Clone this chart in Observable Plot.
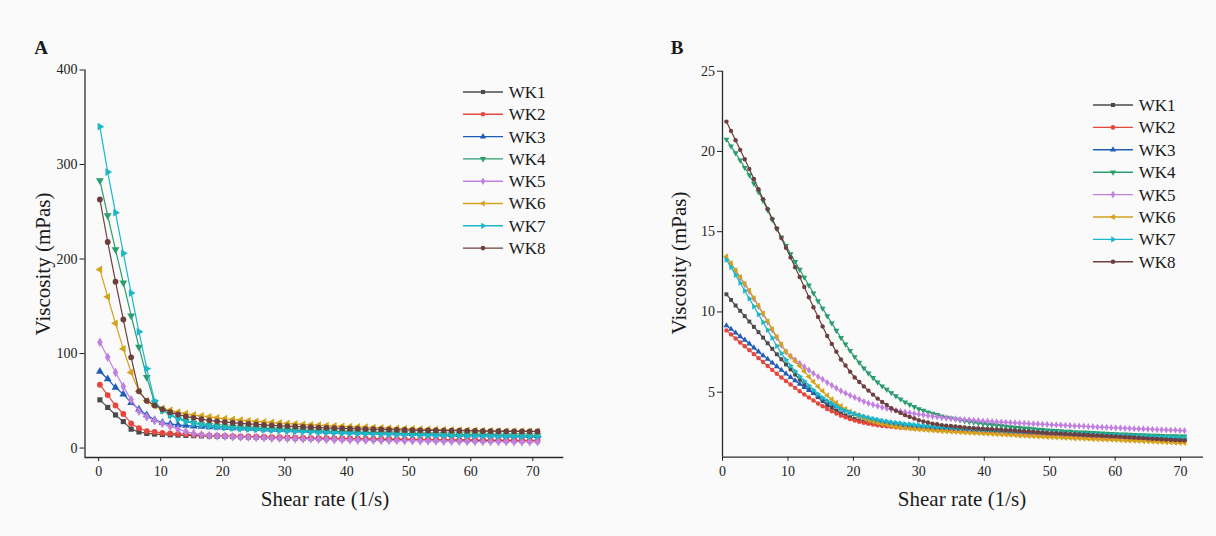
<!DOCTYPE html>
<html>
<head>
<meta charset="utf-8">
<script src="https://cdn.jsdelivr.net/npm/d3@7"></script>
<script src="https://cdn.jsdelivr.net/npm/@observablehq/plot@0.6"></script>
<style>
  html, body { margin: 0; padding: 0; background: #fafafa; }
  #wrap { position: relative; width: 1216px; height: 536px; background: #fafafa; overflow: hidden;
          font-family: "Liberation Serif", "Times New Roman", serif; color: #1a1a1a; }
  #wrap svg, #wrap svg text { font-family: "Liberation Serif", "Times New Roman", serif !important; }
  .lbl { position: absolute; font-size: 21px; white-space: nowrap; transform: translate(-50%, -50%); line-height: 1; }
  .ylbl { transform: translate(-50%, -50%) rotate(-90deg); }
  .letter { position: absolute; font-size: 19px; font-weight: bold; transform: translate(-50%, -50%); line-height: 1; }
</style>
</head>
<body>
<div id="wrap">
  <div class="letter" style="left:41px;top:47px">A</div>
  <div class="letter" style="left:677px;top:47px">B</div>
  <div class="lbl ylbl" style="left:43px;top:264px">Viscosity (mPas)</div>
  <div class="lbl" style="left:325px;top:499px">Shear rate (1/s)</div>
  <div class="lbl ylbl" style="left:679px;top:263px">Viscosity (mPas)</div>
  <div class="lbl" style="left:962px;top:499px">Shear rate (1/s)</div>
</div>
<script>
// ---------- series names / colours ----------
const names = ["WK1", "WK2", "WK3", "WK4", "WK5", "WK6", "WK7", "WK8"];
const colors = ["#4a4a4a", "#e8453c", "#1f5db8", "#2a9d6e", "#c17fe0", "#d4a21c", "#1cb8c8", "#6e3f3f"];

// ---------- tick labels ----------
const xTicks = [0, 10, 20, 30, 40, 50, 60, 70];
const yTicksA = [0, 100, 200, 300, 400];
const yTicksB = [5, 10, 15, 20, 25];

// ---------- Panel A: shear rate (1/s) ----------
const xA = [0.2,1.46,2.72,3.98,5.24,6.5,7.76,9.02,10.28,11.54,12.8,14.06,15.32,16.58,17.84,19.1,20.36,21.62,22.88,24.14,25.4,26.66,27.92,29.18,30.44,31.7,32.96,34.22,35.48,36.74,38,39.26,40.52,41.78,43.04,44.3,45.56,46.82,48.08,49.34,50.6,51.86,53.12,54.38,55.64,56.9,58.16,59.42,60.68,61.94,63.2,64.46,65.72,66.98,68.24,69.5,70.76];
// Panel A viscosity (mPas)
const wk1A = [51,43,35,28,20,17,15.5,14.8,14.3,14,13.7,13.4,13.1,12.9,12.7,12.5,12.3,12.1,11.9,11.7,11.5,11.3,11.1,10.9,10.7,10.5,10.3,10.2,10.1,10,9.9,9.8,9.7,9.6,9.5,9.4,9.3,9.2,9.1,9,8.9,8.8,8.7,8.6,8.5,8.4,8.3,8.3,8.2,8.1,8.0,8.0,7.9,7.9,7.8,7.8,7.7];
const wk2A = [67,56,45,36,26,21,18,17,16,15.5,15,14.6,14.2,13.8,13.5,13.2,12.9,12.6,12.4,12.2,12,11.8,11.6,11.4,11.2,11,10.8,10.6,10.5,10.4,10.3,10.2,10.1,10,9.9,9.8,9.7,9.6,9.5,9.4,9.3,9.2,9.1,9.0,8.9,8.8,8.7,8.7,8.6,8.5,8.4,8.4,8.3,8.3,8.2,8.2,8.1];
const wk3A = [81,73,64,57,48,41,35,30,27,25.5,24.5,23.8,23.2,22.7,22.3,21.9,21.5,21.2,20.9,20.6,20.3,20,19.7,19.4,19.1,18.8,18.5,18.2,17.9,17.6,17.3,17,16.8,16.6,16.4,16.2,16,15.8,15.6,15.4,15.2,15,14.8,14.6,14.4,14.2,14,13.9,13.8,13.7,13.6,13.5,13.4,13.3,13.2,13.1,13];
const wk4A = [283,246,210,175,140,107,75,48,40,35,31,28.5,26.5,25,24,23.3,22.7,22.2,21.8,21.4,21,20.6,20.2,19.8,19.4,19,18.6,18.3,18,17.7,17.4,17.1,16.8,16.5,16.3,16.1,15.9,15.7,15.5,15.3,15.1,14.9,14.7,14.6,14.5,14.4,14.3,14.2,14.1,14,13.9,13.8,13.7,13.6,13.5,13.4,13.3];
const wk5A = [112,96,80,65,51,39,33,29,26,23,20,17.5,15.5,14,13.3,12.8,12.4,12,11.7,11.4,11.1,10.8,10.5,10.3,10.1,9.9,9.7,9.5,9.3,9.1,8.9,8.7,8.5,8.4,8.3,8.2,8.1,8,7.9,7.8,7.7,7.6,7.5,7.4,7.3,7.2,7.1,7.0,7.0,6.9,6.9,6.8,6.8,6.7,6.7,6.6,6.6];
const wk6A = [189,160,132,105,80,60,50,45,42,40,38,36.5,35,34,33,32,31,30.2,29.5,28.8,28.2,27.6,27,26.5,26,25.5,25,24.6,24.2,23.8,23.4,23,22.6,22.3,22,21.7,21.4,21.1,20.8,20.5,20.2,20,19.8,19.6,19.4,19.2,19,18.8,18.6,18.4,18.2,18.1,18,17.9,17.8,17.7,17.6];
const wk7A = [340,292,249,206,164,123,84,50,40,35,31,28,26,24.5,23.3,22.4,21.7,21.1,20.6,20.1,19.7,19.3,18.9,18.5,18.1,17.8,17.5,17.2,16.9,16.6,16.3,16,15.8,15.6,15.4,15.2,15,14.8,14.6,14.4,14.2,14,13.8,13.6,13.5,13.4,13.3,13.2,13.1,13,12.9,12.8,12.7,12.6,12.5,12.4,12.3];
const wk8A = [263,218,176,136,96,60,50,45,41,38,35.5,33.5,32,30.5,29.3,28.3,27.5,26.8,26.2,25.6,25,24.5,24,23.6,23.2,22.8,22.4,22,21.7,21.4,21.1,20.8,20.5,20.3,20.1,19.9,19.7,19.5,19.3,19.1,18.9,18.8,18.7,18.6,18.5,18.4,18.3,18.2,18.1,18,17.9,17.8,17.7,17.7,17.6,17.6,17.5];

// ---------- Panel B: shear rate (1/s) ----------
const xB = [0.6,1.3,2.0,2.7,3.4,4.1,4.8,5.5,6.2,6.9,7.6,8.3,9.0,9.7,10.4,11.1,11.8,12.5,13.2,13.9,14.6,15.3,16.0,16.7,17.4,18.1,18.8,19.5,20.2,20.9,21.6,22.3,23.0,23.7,24.4,25.1,25.8,26.5,27.2,27.9,28.6,29.3,30.0,30.7,31.4,32.1,32.8,33.5,34.2,34.9,35.6,36.3,37.0,37.7,38.4,39.1,39.8,40.5,41.2,41.9,42.6,43.3,44.0,44.7,45.4,46.1,46.8,47.5,48.2,48.9,49.6,50.3,51.0,51.7,52.4,53.1,53.8,54.5,55.2,55.9,56.6,57.3,58.0,58.7,59.4,60.1,60.8,61.5,62.2,62.9,63.6,64.3,65.0,65.7,66.4,67.1,67.8,68.5,69.2,69.9,70.6];
// Panel B viscosity (mPas)
const wk1B = [11.1,10.75,10.4,10.07,9.74,9.4,9.07,8.74,8.4,8.05,7.7,7.36,7.05,6.73,6.42,6.1,5.79,5.5,5.22,4.94,4.69,4.44,4.2,4.02,3.85,3.68,3.56,3.44,3.33,3.24,3.17,3.1,3.05,3.0,2.96,2.94,2.91,2.89,2.87,2.85,2.83,2.81,2.8,2.79,2.78,2.77,2.76,2.75,2.74,2.74,2.73,2.72,2.71,2.7,2.69,2.68,2.66,2.65,2.63,2.62,2.6,2.59,2.57,2.56,2.54,2.52,2.5,2.49,2.47,2.45,2.43,2.41,2.4,2.38,2.36,2.34,2.33,2.31,2.3,2.28,2.27,2.25,2.24,2.23,2.21,2.2,2.19,2.17,2.16,2.14,2.13,2.11,2.1,2.09,2.07,2.06,2.05,2.04,2.03,2.01,2.0];
const wk2B = [8.85,8.6,8.35,8.1,7.86,7.62,7.37,7.12,6.88,6.63,6.39,6.15,5.92,5.7,5.48,5.27,5.06,4.86,4.67,4.48,4.3,4.12,3.95,3.81,3.67,3.54,3.43,3.32,3.23,3.16,3.09,3.03,2.98,2.94,2.9,2.87,2.84,2.82,2.79,2.77,2.76,2.74,2.72,2.71,2.69,2.68,2.66,2.65,2.64,2.62,2.61,2.59,2.58,2.57,2.56,2.55,2.53,2.52,2.5,2.49,2.48,2.46,2.45,2.44,2.42,2.41,2.39,2.38,2.37,2.35,2.34,2.32,2.31,2.3,2.28,2.27,2.25,2.24,2.23,2.21,2.2,2.19,2.18,2.16,2.15,2.14,2.13,2.11,2.1,2.09,2.08,2.06,2.05,2.04,2.03,2.01,2.0,1.99,1.98,1.96,1.95];
const wk3B = [9.15,8.93,8.7,8.47,8.25,8.02,7.77,7.52,7.28,7.06,6.83,6.6,6.38,6.15,5.93,5.72,5.51,5.31,5.12,4.93,4.75,4.57,4.4,4.25,4.1,3.96,3.85,3.73,3.63,3.54,3.45,3.37,3.3,3.23,3.17,3.12,3.07,3.03,2.99,2.95,2.93,2.9,2.88,2.86,2.84,2.82,2.8,2.79,2.77,2.76,2.74,2.72,2.71,2.69,2.68,2.67,2.65,2.64,2.63,2.61,2.6,2.58,2.57,2.56,2.54,2.53,2.51,2.5,2.49,2.47,2.46,2.44,2.43,2.42,2.4,2.39,2.38,2.36,2.35,2.34,2.32,2.31,2.3,2.29,2.28,2.27,2.26,2.24,2.23,2.22,2.2,2.19,2.18,2.17,2.16,2.15,2.14,2.13,2.12,2.11,2.1];
const wk4B = [20.75,20.33,19.9,19.45,18.99,18.53,18.0,17.48,16.93,16.34,15.74,15.18,14.65,14.13,13.62,13.13,12.64,12.15,11.66,11.17,10.68,10.22,9.75,9.3,8.84,8.39,7.99,7.59,7.2,6.85,6.5,6.18,5.9,5.62,5.38,5.17,4.96,4.76,4.57,4.38,4.23,4.09,3.95,3.86,3.76,3.67,3.59,3.51,3.43,3.38,3.32,3.26,3.2,3.16,3.12,3.07,3.03,3.0,2.97,2.94,2.91,2.87,2.84,2.81,2.79,2.76,2.74,2.71,2.68,2.66,2.63,2.61,2.6,2.58,2.56,2.55,2.53,2.51,2.5,2.49,2.47,2.46,2.44,2.43,2.41,2.4,2.39,2.38,2.36,2.35,2.34,2.33,2.32,2.31,2.3,2.29,2.28,2.28,2.27,2.26,2.25];
const wk5B = [13.4,12.98,12.55,12.13,11.71,11.28,10.81,10.34,9.86,9.37,8.88,8.4,7.93,7.5,7.25,7.02,6.8,6.58,6.37,6.17,5.97,5.8,5.6,5.43,5.25,5.08,4.94,4.8,4.67,4.55,4.42,4.31,4.22,4.14,4.06,3.99,3.92,3.86,3.81,3.76,3.71,3.66,3.62,3.58,3.54,3.5,3.46,3.42,3.39,3.35,3.33,3.31,3.29,3.27,3.25,3.23,3.2,3.19,3.17,3.15,3.14,3.12,3.1,3.09,3.07,3.06,3.04,3.03,3.02,3.0,2.99,2.97,2.96,2.95,2.93,2.92,2.9,2.89,2.88,2.86,2.85,2.83,2.82,2.81,2.79,2.78,2.77,2.75,2.74,2.73,2.72,2.71,2.7,2.69,2.67,2.66,2.65,2.64,2.63,2.61,2.6];
const wk6B = [13.45,13.03,12.6,12.18,11.76,11.33,10.86,10.39,9.91,9.42,8.93,8.45,7.98,7.52,7.22,6.93,6.63,6.3,5.97,5.65,5.35,5.07,4.8,4.56,4.34,4.14,3.96,3.8,3.65,3.51,3.38,3.27,3.17,3.09,3.02,2.97,2.9,2.85,2.81,2.77,2.74,2.71,2.68,2.66,2.63,2.61,2.59,2.57,2.55,2.54,2.52,2.5,2.48,2.47,2.45,2.44,2.42,2.41,2.39,2.38,2.36,2.35,2.33,2.31,2.29,2.28,2.26,2.25,2.24,2.22,2.21,2.19,2.18,2.17,2.15,2.14,2.12,2.11,2.1,2.09,2.07,2.06,2.05,2.04,2.03,2.02,2.01,1.99,1.98,1.97,1.95,1.94,1.93,1.92,1.9,1.89,1.88,1.87,1.85,1.84,1.83];
const wk7B = [13.25,12.78,12.3,11.81,11.32,10.83,10.34,9.85,9.36,8.87,8.38,7.88,7.42,7.02,6.65,6.3,5.98,5.68,5.4,5.13,4.88,4.66,4.45,4.29,4.12,3.96,3.85,3.73,3.63,3.55,3.47,3.4,3.34,3.28,3.22,3.18,3.13,3.1,3.06,3.02,3.0,2.97,2.94,2.92,2.9,2.88,2.86,2.84,2.82,2.81,2.79,2.77,2.75,2.73,2.72,2.7,2.68,2.67,2.66,2.64,2.63,2.62,2.6,2.59,2.57,2.56,2.55,2.54,2.52,2.51,2.49,2.48,2.47,2.46,2.45,2.43,2.42,2.41,2.4,2.39,2.37,2.36,2.35,2.34,2.33,2.32,2.31,2.29,2.28,2.27,2.26,2.25,2.24,2.23,2.21,2.2,2.19,2.18,2.17,2.16,2.15];
const wk8B = [21.86,21.28,20.7,20.1,19.51,18.91,18.28,17.65,17.03,16.41,15.8,15.2,14.6,14.0,13.4,12.79,12.18,11.55,10.92,10.29,9.69,9.1,8.5,8.01,7.52,7.04,6.66,6.28,5.92,5.64,5.36,5.1,4.85,4.6,4.39,4.2,4.0,3.85,3.71,3.57,3.46,3.36,3.25,3.18,3.11,3.04,3.0,2.95,2.91,2.89,2.86,2.83,2.8,2.78,2.76,2.74,2.72,2.71,2.69,2.68,2.66,2.64,2.63,2.61,2.59,2.57,2.55,2.53,2.51,2.49,2.46,2.45,2.44,2.42,2.41,2.39,2.38,2.36,2.35,2.34,2.32,2.31,2.29,2.28,2.26,2.25,2.23,2.21,2.19,2.18,2.16,2.14,2.12,2.1,2.09,2.07,2.05,2.04,2.02,2.01,2.0];

// ---------- symbols ----------
const sqrt3 = Math.sqrt(3);
function rotatedTriangle(angleDeg) {
  const a = angleDeg * Math.PI / 180, c = Math.cos(a), s = Math.sin(a);
  return {
    draw(ctx, size) {
      const y = -Math.sqrt(size / (sqrt3 * 3));
      const pts = [[0, y * 2], [-sqrt3 * y, -y], [sqrt3 * y, -y]].map(([px, py]) => [px * c - py * s, px * s + py * c]);
      ctx.moveTo(pts[0][0], pts[0][1]);
      ctx.lineTo(pts[1][0], pts[1][1]);
      ctx.lineTo(pts[2][0], pts[2][1]);
      ctx.closePath();
    }
  };
}
const symbols = [
  d3.symbolSquare,
  d3.symbolCircle,
  rotatedTriangle(0),     // up
  rotatedTriangle(180),   // down
  d3.symbolDiamond,
  rotatedTriangle(-90),   // left
  rotatedTriangle(90),    // right
  d3.symbolCircle
];

function tidy(xs, series) {
  return names.flatMap((n, k) => xs.map((x, i) => ({ s: n, x, y: series[k][i] })));
}
const dataA = tidy(xA, [wk1A, wk2A, wk3A, wk4A, wk5A, wk6A, wk7A, wk8A]);
const dataB = tidy(xB, [wk1B, wk2B, wk3B, wk4B, wk5B, wk6B, wk7B, wk8B]);

const font = "Liberation Serif, Times New Roman, serif";

function panel(data, opts) {
  const marks = [
    Plot.ruleY([opts.yDomain[0]], { stroke: "#2a2a2a", strokeWidth: 1.3 }),
    Plot.ruleX([opts.xDomain[0]], { stroke: "#2a2a2a", strokeWidth: 1.3 })
  ];
  names.forEach((n, k) => {
    const d = data.filter(e => e.s === n);
    marks.push(Plot.line(d, { x: "x", y: "y", stroke: colors[k], strokeWidth: 1.2 }));
    marks.push(Plot.dot(d, { x: "x", y: "y", fill: colors[k], stroke: "none", symbol: symbols[k], r: opts.r }));
  });
  return Plot.plot({
    width: opts.width, height: 536,
    marginLeft: opts.ml, marginRight: opts.mr, marginTop: opts.mt, marginBottom: opts.mb,
    x: { domain: opts.xDomain, ticks: xTicks, tickSize: 4, tickPadding: 5, label: null },
    y: { domain: opts.yDomain, ticks: opts.yTicks, tickSize: 5, tickPadding: 2.5, label: null },
    style: { fontFamily: font, fontSize: "14px", background: "transparent", color: "#222", overflow: "visible" },
    marks
  });
}

const wrap = document.getElementById("wrap");

const svgA = panel(dataA, { width: 600, ml: 84.5, mr: 36.7, mt: 69.5, mb: 79,
  xDomain: [-2.2, 75], yDomain: [-10, 400], yTicks: yTicksA, r: 2.9 });
svgA.style.position = "absolute"; svgA.style.left = "0px"; svgA.style.top = "0px";
wrap.appendChild(svgA);

const svgB = panel(dataB, { width: 596, ml: 102, mr: 13, mt: 70.7, mb: 79.3,
  xDomain: [0, 73.5], yDomain: [0.95, 25], yTicks: yTicksB, r: 2.2 });
svgB.style.position = "absolute"; svgB.style.left = "620px"; svgB.style.top = "0px";
wrap.appendChild(svgB);

// ---------- legends ----------
function legend(left, top, spacing) {
  const w = 110, h = spacing * 8 + 10;
  const svg = d3.create("svg").attr("width", w).attr("height", h)
    .style("position", "absolute").style("left", left + "px").style("top", (top - 10) + "px").style("overflow", "visible");
  names.forEach((n, k) => {
    const y = 10 + k * spacing;
    const g = svg.append("g").attr("transform", `translate(0,${y})`);
    g.append("line").attr("x1", 0).attr("x2", 40).attr("stroke", colors[k]).attr("stroke-width", 1.4);
    const p = d3.path();
    symbols[k].draw(p, Math.PI * 2.3 * 2.3);
    g.append("path").attr("d", p.toString()).attr("transform", "translate(20,0)").attr("fill", colors[k]);
    g.append("text").attr("x", 45.7).attr("y", 0).attr("dy", "0.35em")
      .attr("font-family", font).attr("font-size", 17).attr("fill", "#1a1a1a").text(n);
  });
  wrap.appendChild(svg.node());
}
legend(462.7, 91.7, 22.3);
legend(1092.7, 105, 22.4);
</script>
</body>
</html>
